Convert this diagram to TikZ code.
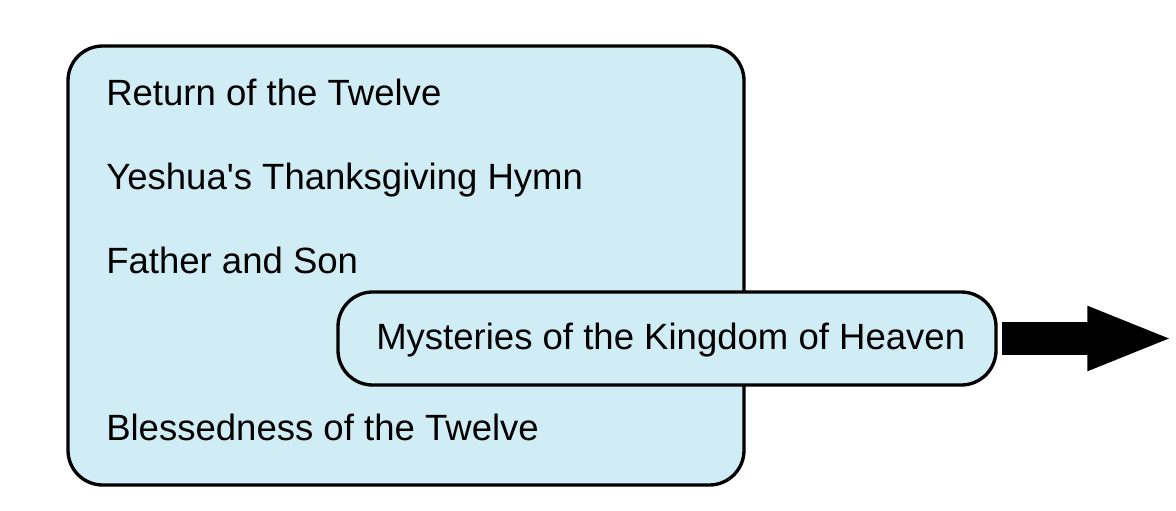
\documentclass[tikz,border=0pt]{standalone}
\usepackage{fontspec}
\setmainfont{Liberation Sans}
\usetikzlibrary{arrows.meta}
\definecolor{boxfill}{RGB}{208,236,244}
\newcommand{\straightquote}{\XeTeXglyph\XeTeXcharglyph"27\relax}
\tikzset{
  panel/.style={draw=black, line width=2.5pt, fill=boxfill, rounded corners=26pt, inner sep=0pt},
  label/.style={anchor=base west, inner sep=0pt, font=\fontsize{27.4}{32}\selectfont},
  bigarrow/.style={line width=24.5pt, -{Triangle[length=65pt 0, width=43.5pt 0]}}
}
\begin{document}
\begin{tikzpicture}[x=0.75pt, y=-0.75pt]
\useasboundingbox (0,0) rectangle (1176,510);
\node[panel, minimum width=507pt, minimum height=329.25pt] (outer) at (406,265.5) {};
\node[label] (t1) at (106,105) {Return of the Twelve};
\node[label] (t2) at (106,189) {Yeshua\straightquote s Thanksgiving Hymn};
\node[label] (t3) at (106,273) {Father and Son};
\node[label] (t5) at (106,440) {Blessedness of the Twelve};
\node[panel, minimum width=493.5pt, minimum height=69.75pt] (inner) at (667,338.5) {};
\node[label] (t4) at (376,349) {Mysteries of the Kingdom of Heaven};
\coordinate (tip) at (1174,338.5);
\draw[bigarrow] ([xshift=3pt]inner.east) -- (tip);
\end{tikzpicture}
\end{document}
